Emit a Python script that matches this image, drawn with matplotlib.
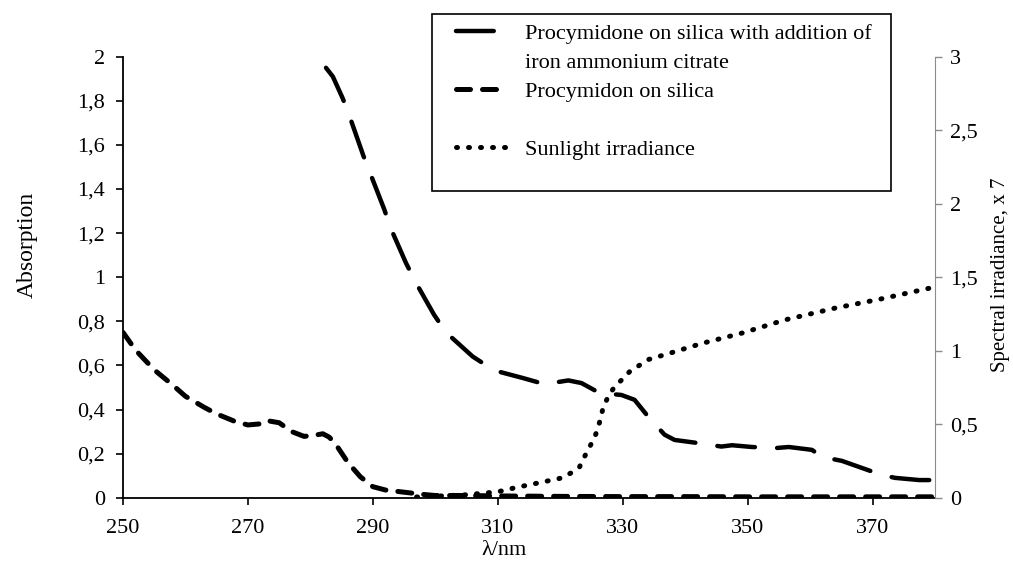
import matplotlib
matplotlib.use("Agg")
import matplotlib.pyplot as plt
from matplotlib.ticker import FuncFormatter
from matplotlib.lines import Line2D
from matplotlib.patches import Rectangle

plt.rcParams['font.family'] = ['Liberation Serif', 'DejaVu Serif']

# Procymidon on silica (medium dash, left axis)
x_silica = [250, 252, 255, 258, 260, 263, 265, 268, 270, 272, 273, 275, 277, 279, 281, 282, 283, 284,
            286, 288, 290, 292, 295, 298, 300, 305, 310, 320, 330, 340, 350, 360, 370, 380]
y_silica = [0.75, 0.67, 0.58, 0.51, 0.46, 0.41, 0.38, 0.345, 0.33, 0.335, 0.35, 0.34, 0.30, 0.278, 0.285,
            0.29, 0.275, 0.245, 0.16, 0.095, 0.05, 0.035, 0.025, 0.015, 0.01, 0.01, 0.008, 0.006, 0.005,
            0.005, 0.004, 0.004, 0.004, 0.004]

# Procymidone on silica with addition of iron ammonium citrate (long dash, left axis)
x_iron = [282.5, 283.6, 285.2, 286.4, 288.5, 289.6, 291.8, 292.9, 295.3, 296.9, 299.8, 301.7, 306, 309,
          310.4, 314, 317.5, 321.3, 323.4, 326.3, 329.8, 331.9, 334.1, 336.7, 338.3, 341.5, 345.8, 347.5,
          350.7, 354.4, 356.6, 360.3, 361.9, 365.1, 368.3, 371.5, 373.6, 377.5, 379.7, 380]
y_iron = [1.95, 1.91, 1.81, 1.72, 1.55, 1.47, 1.31, 1.22, 1.065, 0.975, 0.83, 0.75, 0.64, 0.585,
          0.57, 0.543, 0.515, 0.532, 0.52, 0.475, 0.466, 0.444, 0.367, 0.286, 0.262, 0.25, 0.232, 0.238,
          0.23, 0.225, 0.23, 0.217, 0.185, 0.167, 0.135, 0.103, 0.09, 0.08, 0.08, 0.12]

# Sunlight irradiance x 7 (dotted, right axis)
x_sun = [297, 300, 305, 310, 313, 317, 320.2, 321.8, 323.1, 323.9, 324.7, 325.5, 326.1, 326.9, 327.7,
         328.7, 329.8, 331.1, 334.1, 337.3, 342.7, 349.1, 356, 364, 371.1, 379.6]
y_sun = [0.005, 0.01, 0.02, 0.04, 0.07, 0.105, 0.134, 0.17, 0.21, 0.28, 0.345, 0.41, 0.48, 0.617, 0.69,
         0.755, 0.8, 0.857, 0.94, 0.98, 1.05, 1.12, 1.21, 1.29, 1.35, 1.43]

label_iron_1 = "Procymidone on silica with addition of"
label_iron_2 = "iron ammonium citrate"
label_silica = "Procymidon on silica"
label_sun = "Sunlight irradiance"

left_ticks = [0, 0.2, 0.4, 0.6, 0.8, 1, 1.2, 1.4, 1.6, 1.8, 2]
right_ticks = [0, 0.5, 1, 1.5, 2, 2.5, 3]
x_ticks = [250, 270, 290, 310, 330, 350, 370]

W, H = 1013, 562
fig = plt.figure(figsize=(W / 100, H / 100), dpi=100)
ax = fig.add_axes([0.1214, 0.1144, 0.8016, 0.7846])
ax2 = ax.twinx()

def comma(v, pos):
    s = ('%g' % v)
    return s.replace('.', ',')

l1, = ax.plot(x_iron, y_iron, color='black', lw=3.2, linestyle=(0, (8.5, 5.0)),
              dash_capstyle='round', solid_capstyle='round')
l2, = ax.plot(x_silica, y_silica, color='black', lw=3.6, linestyle=(0, (2.8, 2.4)),
              dash_capstyle='round')
l3, = ax2.plot(x_sun, y_sun, color='black', lw=3.6, linestyle=(0, (0.2, 2.2)),
               dash_capstyle='round')

ax.set_xlim(250, 380)
ax.set_ylim(0, 2)
ax2.set_ylim(0, 3)
ax.set_xticks(x_ticks)
ax.set_yticks(left_ticks)
ax2.set_yticks(right_ticks)
ax.yaxis.set_major_formatter(FuncFormatter(comma))
ax2.yaxis.set_major_formatter(FuncFormatter(comma))

for a in (ax, ax2):
    a.spines['top'].set_visible(False)
ax.spines['right'].set_visible(False)
ax2.spines['left'].set_visible(False)
ax2.spines['bottom'].set_visible(False)
ax2.spines['right'].set_color('#8c8c8c')
ax.spines['left'].set_linewidth(1.3)
ax.spines['bottom'].set_linewidth(1.3)

ax.tick_params(axis='y', direction='out', length=5, width=1.2, labelsize=16, colors='black', pad=8)
ax.tick_params(axis='x', direction='out', length=5, width=1.2, labelsize=16, colors='black', pad=10)
ax2.tick_params(axis='y', direction='out', length=5, width=1.0, labelsize=16, color='#8c8c8c',
                labelcolor='black', pad=6)

fig.text(0.027, 0.564, "Absorption", rotation=90, ha='center', va='center', fontsize=17)
fig.text(0.988, 0.5107, "Spectral irradiance, x 7", rotation=90, ha='center', va='center', fontsize=15)
fig.text(0.498, 0.003, "λ/nm", ha='center', va='bottom', fontsize=16)

# legend frame
fig.patches.append(Rectangle((432 / W, 1 - 191 / H), (891 - 432) / W, (191 - 14) / H,
                             transform=fig.transFigure, fill=True, facecolor='white',
                             edgecolor='black', linewidth=1.2, zorder=5))
spacer1 = Line2D([], [], alpha=0)
spacer2 = Line2D([], [], alpha=0)
leg = fig.legend([l1, spacer1, l2, spacer2, l3],
                 [label_iron_1, label_iron_2, label_silica, ' ', label_sun], loc='upper left',
                 bbox_to_anchor=(456 / W, 1 - 23 / H), fontsize=16, frameon=False,
                 handlelength=2.2, handletextpad=0.9, labelspacing=0.38, borderpad=0,
                 borderaxespad=0)
leg.set_zorder(6)

fig.savefig("out.png", dpi=100)
